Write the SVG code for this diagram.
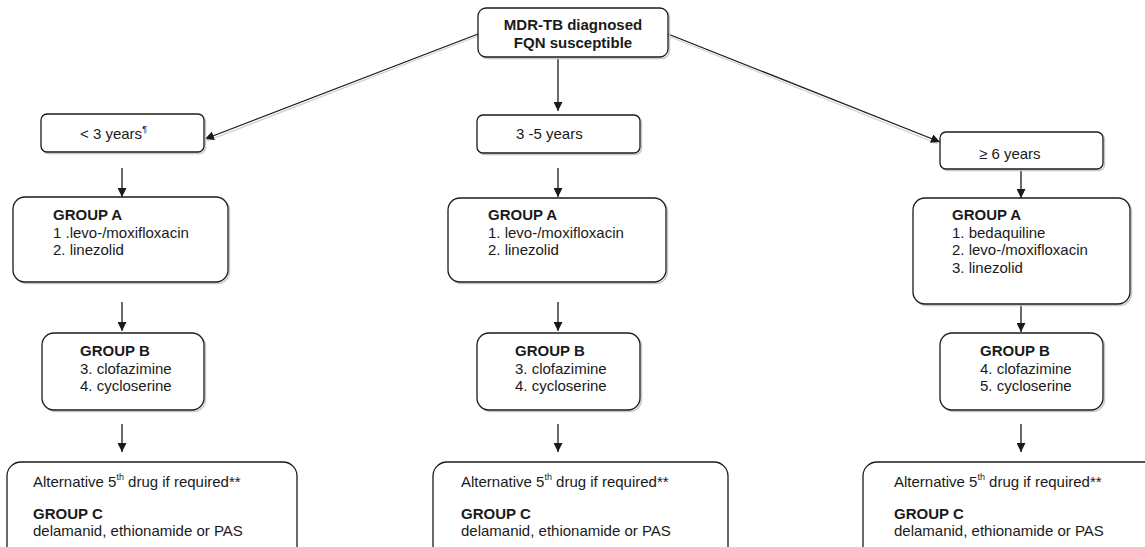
<svg xmlns="http://www.w3.org/2000/svg" width="1145" height="547" viewBox="0 0 1145 547">
<style>
.box{fill:#fff;stroke:#1a1a1a;stroke-width:1.3}
.sh{fill:none;stroke:#c8c8c8;stroke-width:1.5}
text{font-family:"Liberation Sans",Arial,sans-serif;font-size:15px;fill:#1a1a1a}
.b{font-weight:bold}
.sup{font-size:9px}
.c{stroke:#1a1a1a;stroke-width:1.3;fill:none;marker-end:url(#ah)}
.cs{stroke:#cfcfcf;stroke-width:1.3;fill:none}
</style>
<defs>
<marker id="ah" viewBox="0 0 10 10" refX="10" refY="5" markerWidth="9" markerHeight="9" markerUnits="userSpaceOnUse" orient="auto">
<path d="M0,0 L10,5 L0,10 z" fill="#1a1a1a"/>
</marker>
</defs>
<rect width="1145" height="547" fill="#fff"/>
<g id="connectors">
<line class="cs" x1="478" y1="36" x2="207" y2="141"/>
<line class="cs" x1="668" y1="36" x2="938" y2="144"/>
<line class="c" x1="478" y1="34" x2="205" y2="139"/>
<line class="c" x1="558" y1="58" x2="558" y2="111"/>
<line class="c" x1="668" y1="34" x2="940" y2="142"/>
<line class="c" x1="122" y1="168" x2="122" y2="197"/>
<line class="c" x1="558" y1="168" x2="558" y2="197"/>
<line class="c" x1="1021" y1="169" x2="1021" y2="198"/>
<line class="c" x1="122" y1="302" x2="122" y2="331"/>
<line class="c" x1="558" y1="302" x2="558" y2="331"/>
<line class="c" x1="1021" y1="304" x2="1021" y2="332"/>
<line class="c" x1="122" y1="424" x2="122" y2="452"/>
<line class="c" x1="558" y1="424" x2="558" y2="452"/>
<line class="c" x1="1021" y1="424" x2="1021" y2="452"/>
</g>
<g id="top">
<rect class="sh" x="479.5" y="9.5" width="190" height="49" rx="8"/>
<rect class="box" x="478" y="8" width="190" height="49" rx="8"/>
<text class="b" x="573" y="30" text-anchor="middle">MDR-TB diagnosed</text>
<text class="b" x="573" y="48" text-anchor="middle">FQN susceptible</text>
</g>
<g id="age1">
<rect class="sh" x="42.5" y="115.5" width="163" height="38" rx="6"/>
<rect class="box" x="41" y="114" width="163" height="38" rx="6"/>
<text x="80" y="139">&lt; 3 years<tspan class="sup" dy="-7">¶</tspan></text>
</g>
<g id="age2">
<rect class="sh" x="478.5" y="116.5" width="163" height="38" rx="6"/>
<rect class="box" x="477" y="115" width="163" height="38" rx="6"/>
<text x="516" y="139">3 -5 years</text>
</g>
<g id="age3">
<rect class="sh" x="941.5" y="133.5" width="163" height="37" rx="6"/>
<rect class="box" x="940" y="132" width="163" height="37" rx="6"/>
<text x="979" y="159">≥ 6 years</text>
</g>
<g id="groupA1">
<rect class="sh" x="14.5" y="198.5" width="215" height="85" rx="12"/>
<rect class="box" x="13" y="197" width="215" height="85" rx="12"/>
<text class="b" x="53" y="220">GROUP A</text>
<text x="53" y="237.5">1 .levo-/moxifloxacin</text>
<text x="53" y="255">2. linezolid</text>
</g>
<g id="groupA2">
<rect class="sh" x="449.5" y="199.5" width="218" height="84" rx="12"/>
<rect class="box" x="448" y="198" width="218" height="84" rx="12"/>
<text class="b" x="488" y="220">GROUP A</text>
<text x="488" y="237.5">1. levo-/moxifloxacin</text>
<text x="488" y="255">2. linezolid</text>
</g>
<g id="groupA3">
<rect class="sh" x="914.5" y="199.5" width="217" height="106" rx="12"/>
<rect class="box" x="913" y="198" width="217" height="106" rx="12"/>
<text class="b" x="952" y="220">GROUP A</text>
<text x="952" y="237.5">1. bedaquiline</text>
<text x="952" y="255">2. levo-/moxifloxacin</text>
<text x="952" y="272.5">3. linezolid</text>
</g>
<g id="groupB1">
<rect class="sh" x="43.5" y="334.5" width="162" height="77" rx="12"/>
<rect class="box" x="42" y="333" width="162" height="77" rx="12"/>
<text class="b" x="80" y="356">GROUP B</text>
<text x="80" y="373.5">3. clofazimine</text>
<text x="80" y="391">4. cycloserine</text>
</g>
<g id="groupB2">
<rect class="sh" x="478.5" y="334.5" width="163" height="77" rx="12"/>
<rect class="box" x="477" y="333" width="163" height="77" rx="12"/>
<text class="b" x="515" y="356">GROUP B</text>
<text x="515" y="373.5">3. clofazimine</text>
<text x="515" y="391">4. cycloserine</text>
</g>
<g id="groupB3">
<rect class="sh" x="941.5" y="334.5" width="163" height="77" rx="12"/>
<rect class="box" x="940" y="333" width="163" height="77" rx="12"/>
<text class="b" x="980" y="356">GROUP B</text>
<text x="980" y="373.5">4. clofazimine</text>
<text x="980" y="391">5. cycloserine</text>
</g>
<g id="groupC1">
<rect class="box" x="7" y="462" width="290" height="110" rx="14"/>
<text x="33" y="487">Alternative 5<tspan class="sup" dy="-7">th</tspan><tspan dy="7"> drug if required**</tspan></text>
<text class="b" x="33" y="519">GROUP C</text>
<text x="33" y="536">delamanid, ethionamide or PAS</text>
</g>
<g id="groupC2">
<rect class="box" x="433" y="462" width="295" height="110" rx="14"/>
<text x="461" y="487">Alternative 5<tspan class="sup" dy="-7">th</tspan><tspan dy="7"> drug if required**</tspan></text>
<text class="b" x="461" y="519">GROUP C</text>
<text x="461" y="536">delamanid, ethionamide or PAS</text>
</g>
<g id="groupC3">
<rect class="box" x="863" y="462" width="300" height="110" rx="14"/>
<text x="894" y="487">Alternative 5<tspan class="sup" dy="-7">th</tspan><tspan dy="7"> drug if required**</tspan></text>
<text class="b" x="894" y="519">GROUP C</text>
<text x="894" y="536">delamanid, ethionamide or PAS</text>
</g>
</svg>
